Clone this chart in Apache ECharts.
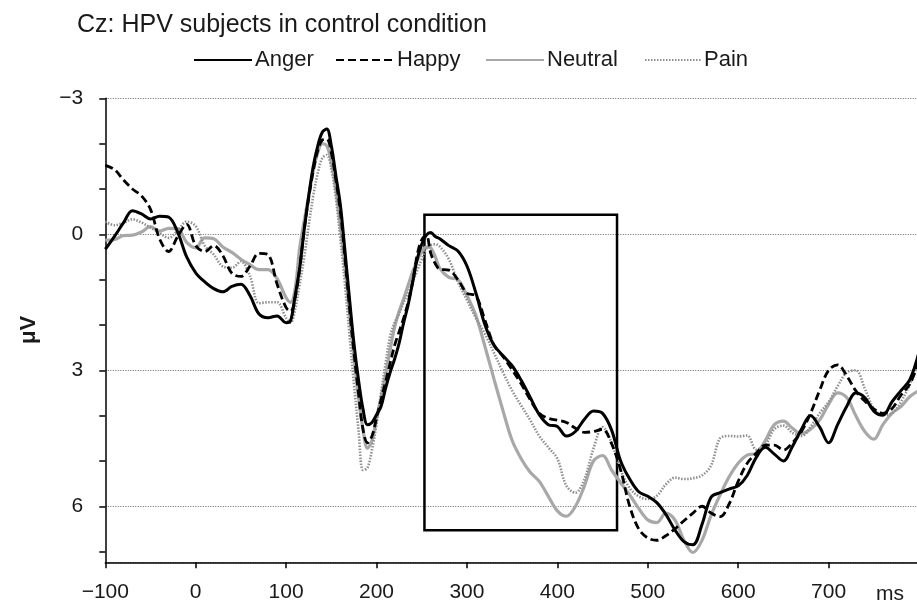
<!DOCTYPE html>
<html>
<head>
<meta charset="utf-8">
<script src="https://cdn.jsdelivr.net/npm/echarts@6/dist/echarts.min.js"></script>
<style>html,body{margin:0;padding:0;background:#fff;overflow:hidden}#c{width:922px;height:605px}</style>
</head>
<body>
<div id="c"></div>
<script>
// ---- data (ms, µV) ----
var times = [-100,-90,-80,-70,-60,-50,-40,-30,-20,-10,0,10,20,30,40,50,60,70,80,90,100,
  105,110,115,120,125,130,135,140,145,150,155,160,165,170,175,180,185,190,195,200,205,210,215,220,225,230,235,240,245,250,255,260,265,
  270,280,290,300,310,320,330,340,350,360,370,380,390,400,410,420,430,440,450,460,470,480,490,500,510,520,530,540,550,560,570,580,590,600,610,620,630,640,650,660,670,680,690,700,710,720,730,740,750,760,770,780,790,800];

var anger = [0.33,0.05,-0.25,-0.52,-0.45,-0.34,-0.4,-0.38,-0.05,0.5,0.85,1.05,1.2,1.27,1.15,1.1,1.35,1.76,1.84,1.8,1.95,
  1.9,1.35,0.75,-0.1,-0.85,-1.5,-1.95,-2.25,-2.32,-1.95,-1.3,-0.65,0.35,1.4,2.4,3.2,3.85,4.2,4.15,3.98,3.8,3.4,3.05,2.75,2.4,1.95,1.55,1.05,0.55,0.22,0.02,-0.04,0.05,
  0.1,0.25,0.37,0.7,1.3,2.0,2.45,2.68,2.9,3.22,3.6,3.98,4.2,4.24,4.45,4.35,4.08,3.9,3.95,4.32,5.0,5.4,5.68,5.78,5.92,6.18,6.52,6.78,6.85,6.4,5.8,5.7,5.62,5.55,5.32,4.92,4.7,4.85,5.0,4.68,4.3,4.0,4.25,4.6,4.2,3.8,3.5,3.6,3.9,3.99,3.7,3.45,3.2,2.6];

var happy = [-1.52,-1.43,-1.2,-1.0,-0.85,-0.55,0.1,0.38,0.05,-0.22,0.25,0.38,0.25,0.47,0.86,0.93,0.7,0.42,0.45,1.1,1.62,
  1.7,1.4,0.75,-0.1,-0.8,-1.4,-1.85,-2.08,-2.1,-1.8,-1.2,-0.5,0.5,1.6,2.6,3.5,4.3,4.6,4.45,4.05,3.65,3.25,2.85,2.45,2.15,1.85,1.5,1.05,0.45,0.12,0.02,0.42,0.65,
  0.77,0.79,1.0,1.3,1.36,1.9,2.45,2.7,2.99,3.3,3.65,3.95,4.06,4.1,4.15,4.28,4.37,4.35,4.3,4.62,5.2,6.0,6.5,6.7,6.75,6.65,6.5,6.32,6.15,6.0,6.15,6.23,5.95,5.45,5.05,4.83,4.65,4.65,4.76,4.6,4.35,3.95,3.45,3.0,2.88,3.12,3.45,3.68,3.85,3.95,3.85,3.55,3.3,2.8];

var neutral = [0.13,0.12,0.03,0.02,-0.05,-0.17,-0.07,-0.13,-0.12,0.18,0.3,0.08,0.1,0.28,0.4,0.55,0.67,0.78,0.78,0.98,1.4,
  1.5,1.2,0.3,-0.3,-0.85,-1.4,-1.8,-2.0,-1.95,-1.6,-1.0,-0.2,0.7,1.7,2.7,3.6,4.3,4.72,4.55,4.05,3.6,3.1,2.55,2.05,1.7,1.42,1.12,0.82,0.58,0.38,0.28,0.3,0.5,
  0.75,0.95,1.0,1.35,1.8,2.48,3.2,3.9,4.55,4.95,5.25,5.45,5.78,6.1,6.22,6.0,5.55,5.0,4.88,5.2,5.48,5.75,6.05,6.3,6.36,6.15,6.3,6.75,7.02,6.75,6.2,5.75,5.35,5.05,4.87,4.83,4.55,4.2,4.12,4.28,4.4,4.3,4.1,3.75,3.5,3.6,4.0,4.35,4.52,4.2,3.95,3.8,3.58,3.45];

var pain = [-0.28,-0.2,-0.25,-0.33,-0.26,-0.15,-0.03,0.08,-0.08,-0.28,-0.18,0.25,0.45,0.71,0.74,0.6,0.92,1.52,1.5,1.5,1.85,
  1.95,1.65,1.1,0.5,-0.2,-0.85,-1.35,-1.68,-1.75,-1.45,-0.8,0.1,1.1,2.2,3.3,4.3,5.2,5.15,4.75,4.2,3.5,2.85,2.25,1.95,1.75,1.5,1.3,1.05,0.8,0.55,0.32,0.24,0.22,
  0.27,0.55,1.05,1.45,1.85,2.2,2.62,3.05,3.45,3.78,4.1,4.45,4.7,4.95,5.55,5.7,5.4,4.72,4.25,4.6,5.2,5.6,5.78,5.84,5.77,5.52,5.37,5.4,5.38,5.32,5.1,4.5,4.45,4.46,4.44,4.75,4.65,4.3,4.22,4.38,4.45,4.25,3.95,3.7,3.35,3.05,3.0,3.4,3.85,3.98,3.95,3.7,3.3,2.8];

var seriesNames = ['Anger','Happy','Neutral','Pain'];
var yTickLabels = [-3,0,3,6];
var yMinorTicks = [-3,-2,-1,0,1,2,3,4,5,6,7];
var xTickLabels = [-100,0,100,200,300,400,500,600,700];
// analysis window: [t start, t end, µV top, µV bottom]
var windowBox = [253, 466, -0.43, 6.53];

function pairs(vals){ return times.map(function(t,i){ return [t, vals[i]]; }); }
function fmt(v){ return String(v).replace('-', '\u2212'); }

var FONT = 'Liberation Sans, Arial, sans-serif';
var chart = echarts.init(document.getElementById('c'), null, {renderer:'canvas'});

function legendAt(name, left, width){
  return {
    data:[name], left:left, top:49, padding:0, itemWidth:width, itemHeight:14, itemGap:0,
    itemStyle:{opacity:0},
    textStyle:{fontFamily:FONT, fontSize:22, color:'#1a1a1a', padding:[0,0,0,-2]},
    selectedMode:false
  };
}

var option = {
  animation:false,
  backgroundColor:'#fff',
  title:{ text:'Cz: HPV subjects in control condition', left:77, top:13, padding:0,
    textStyle:{fontFamily:FONT, fontSize:25, fontWeight:'normal', color:'#1a1a1a'} },
  legend:[ legendAt('Anger',193,58), legendAt('Happy',335,58), legendAt('Neutral',485,58), legendAt('Pain',644,56) ],
  grid:{ left:105.3, right:0, top:98.3, bottom:42.7, containLabel:false },
  xAxis:{ type:'value', min:-100, max:800, interval:100,
    axisLine:{show:true, onZero:false, lineStyle:{color:'#000', width:1.5}},
    axisTick:{show:true, length:6, lineStyle:{color:'#000', width:1.5}},
    axisLabel:{ margin:19, fontFamily:FONT, fontSize:21, color:'#1a1a1a',
      formatter:function(v){ return xTickLabels.indexOf(v) >= 0 ? fmt(v) : ''; } },
    splitLine:{show:false} },
  yAxis:[
    { type:'value', inverse:true, min:-3, max:7.236, interval:3, position:'left',
      axisLine:{show:true, onZero:false, lineStyle:{color:'#000', width:1.5}},
      axisTick:{show:false},
      axisLabel:{ margin:22, fontFamily:FONT, fontSize:21, color:'#1a1a1a',
        formatter:function(v){ return yTickLabels.indexOf(Math.round(v*1000)/1000) >= 0 ? fmt(v) : ''; } },
      splitLine:{show:true, lineStyle:{color:'#666', type:[1,1.5], width:1}} },
    { type:'value', inverse:true, min:-3, max:7.236, interval:1, position:'left', offset:0,
      axisLine:{show:false, onZero:false}, axisLabel:{show:false}, splitLine:{show:false},
      axisTick:{show:true, length:6, customValues:yMinorTicks, lineStyle:{color:'#000', width:1.5}} }
  ],
  graphic:[
    { type:'text', x:29, y:330, rotation:Math.PI/2,
      style:{ text:'\u03bcV', fontFamily:FONT, fontSize:22, fontWeight:'bold', fill:'#1a1a1a', align:'center', verticalAlign:'middle' } },
    { type:'text', x:890, y:594,
      style:{ text:'ms', fontFamily:FONT, fontSize:21, fill:'#1a1a1a', align:'center', verticalAlign:'middle' } }
  ],
  series:[
    { name:'Neutral', type:'line', data:pairs(neutral), showSymbol:false, symbol:'none', smooth:0.35, z:2,
      lineStyle:{color:'#a8a8a8', width:3.2}, itemStyle:{color:'#a8a8a8'} },
    { name:'Pain', type:'line', data:pairs(pain), showSymbol:false, symbol:'none', smooth:0.35, z:3,
      lineStyle:{color:'#8f8f8f', width:2.6, type:[1.5,1.5]}, itemStyle:{color:'#8f8f8f'} },
    { name:'Happy', type:'line', data:pairs(happy), showSymbol:false, symbol:'none', smooth:0.35, z:4,
      lineStyle:{color:'#000', width:2.8, type:[8,4]}, itemStyle:{color:'#000'} },
    { name:'Anger', type:'line', data:pairs(anger), showSymbol:false, symbol:'none', smooth:0.35, z:5,
      lineStyle:{color:'#000', width:3}, itemStyle:{color:'#000'},
      markArea:{ silent:true,
        itemStyle:{color:'rgba(0,0,0,0)', borderColor:'#000', borderWidth:2.5},
        data:[[ {xAxis:windowBox[0], yAxis:windowBox[2]}, {xAxis:windowBox[1], yAxis:windowBox[3]} ]] } }
  ]
};
chart.setOption(option);
</script>
</body>
</html>
